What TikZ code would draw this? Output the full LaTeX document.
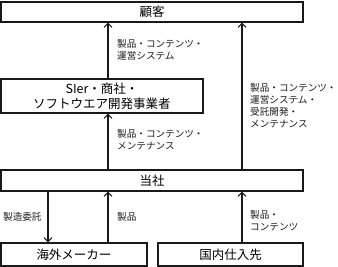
\documentclass[tikz,border=0pt]{standalone}
\usepackage{fontspec}
\newfontfamily\jpfont{Noto Sans CJK JP}
\usepackage{tikz}
\usetikzlibrary{arrows.meta, positioning, calc}
\tikzstyle{arrow} = [-{Straight Barb[length=4pt, width=8pt]}, line width=1.1pt, color=black!90]

\begin{document}
\begin{tikzpicture}[
    x=1pt, y=-1pt,
    orgbox/.style={rectangle, draw=black!90, fill=white, line width=1.1pt,
                   inner sep=0pt, font=\jpfont\fontsize{12.5}{15}\selectfont, align=center},
    flowlabel/.style={anchor=west, inner sep=0pt, align=left,
                      font=\jpfont\fontsize{9.6}{12}\selectfont, text=black!90}
]
    \useasboundingbox (0,0) rectangle (338,267);

    % Columns for the connectors
    \coordinate (colL) at (48,0);
    \coordinate (colM) at (108,0);
    \coordinate (colR) at (242,0);

    % Row 1: customer
    \node[orgbox, minimum width=302pt, minimum height=20pt] (kokyaku) at (152,12) {顧客};

    % Row 2: integrators
    \node[orgbox, minimum width=202pt, minimum height=34pt] (sier) at (102,96)
        {SIer・商社・\\ソフトウエア開発事業者};

    % Row 3: company
    \node[orgbox, minimum width=302pt, minimum height=21pt] (tosha) at (152,180.5) {当社};

    % Row 4: suppliers
    \node[orgbox, minimum width=146pt, minimum height=23pt] (kaigai) at (74,254.5) {海外メーカー};
    \node[orgbox, minimum width=145pt, minimum height=23pt] (kokunai) at (230.5,254.5) {国内仕入先};

    % Arrows
    \draw[arrow] (sier.north -| colM) -- (kokyaku.south -| colM);
    \draw[arrow] (tosha.north -| colM) -- (sier.south -| colM);
    \draw[arrow] (tosha.north -| colR) -- (kokyaku.south -| colR);
    \draw[arrow] (tosha.south -| colL) -- (kaigai.north -| colL);
    \draw[arrow] (kaigai.north -| colM) -- (tosha.south -| colM);
    \draw[arrow] (kokunai.north -| colR) -- (tosha.south -| colR);

    % Labels
    \node[flowlabel] (lblA) at (117,50) {製品・コンテンツ・\\運営システム};
    \node[flowlabel] (lblB) at (250,106) {製品・コンテンツ・\\運営システム・\\受託開発・\\メンテナンス};
    \node[flowlabel] (lblC) at (117,140) {製品・コンテンツ・\\メンテナンス};
    \node[flowlabel] (lblD) at (3,217) {製造委託};
    \node[flowlabel] (lblE) at (117,217) {製品};
    \node[flowlabel] (lblF) at (250,221) {製品・\\コンテンツ};

\end{tikzpicture}
\end{document}
